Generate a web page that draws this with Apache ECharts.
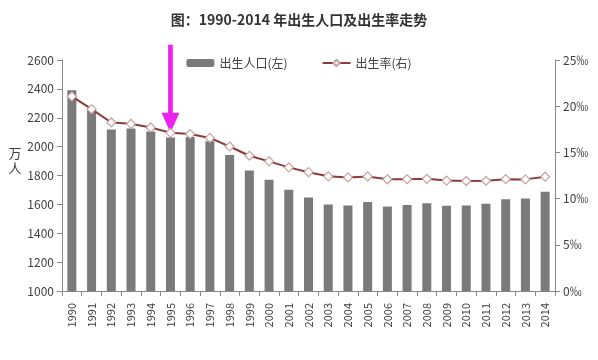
<!DOCTYPE html>
<html><head><meta charset="utf-8">
<script src="https://cdn.jsdelivr.net/npm/echarts@6/dist/echarts.min.js"></script>
<style>html,body{margin:0;padding:0;background:#fff}#c{width:598px;height:360px}</style>
</head><body><div id="c"></div>
<script>
var years = ['1990','1991','1992','1993','1994','1995','1996','1997','1998','1999','2000','2001','2002','2003','2004','2005','2006','2007','2008','2009','2010','2011','2012','2013','2014'];
var births = [2391,2258,2119,2126,2104,2063,2067,2038,1942,1834,1771,1702,1647,1599,1593,1617,1585,1595,1608,1591,1592,1604,1635,1640,1687];
var birthRate = [21.06,19.68,18.24,18.09,17.70,17.12,16.98,16.57,15.64,14.64,14.03,13.38,12.86,12.41,12.29,12.40,12.09,12.10,12.14,11.95,11.90,11.93,12.10,12.08,12.37];
var arrowYear = '1995';
var arrowRate = birthRate[years.indexOf(arrowYear)];

var chart = echarts.init(document.getElementById('c'));
var font = '"Noto Sans CJK SC", "DejaVu Sans", sans-serif';
chart.setOption({
  animation: false,
  textStyle: {fontFamily: font},
  title: {
    text: '图：1990-2014 年出生人口及出生率走势',
    left: 'center', top: 8,
    textStyle: {fontSize: 14, fontWeight: 'bold', color: '#333', fontFamily: font}
  },
  legend: {
    top: 52, left: 'center',
    itemWidth: 28, itemHeight: 8, itemGap: 34,
    textStyle: {fontSize: 12, color: '#404040'},
    data: ['出生人口(左)', '出生率(右)']
  },
  grid: {left: 62, right: 43, top: 60, bottom: 69},
  xAxis: {
    type: 'category', data: years,
    axisLine: {lineStyle: {color: '#888'}},
    axisTick: {show: true, lineStyle: {color: '#888'}},
    axisLabel: {rotate: 90, color: '#404040', fontSize: 11, interval: 0, margin: 12}
  },
  yAxis: [{
    type: 'value', min: 1000, max: 2600, interval: 200,
    name: '万\n人', nameLocation: 'middle', nameGap: 44, nameRotate: 0,
    nameTextStyle: {fontSize: 13, color: '#404040', lineHeight: 15, verticalAlign: 'bottom', align: 'center'},
    axisLine: {show: true, lineStyle: {color: '#888'}},
    axisTick: {show: true, lineStyle: {color: '#888'}},
    axisLabel: {color: '#404040', fontSize: 12, formatter: function (v) { return String(v); }},
    splitLine: {show: false}
  }, {
    type: 'value', min: 0, max: 25, interval: 5,
    axisLine: {show: true, lineStyle: {color: '#888'}},
    axisTick: {show: true, lineStyle: {color: '#888'}},
    axisLabel: {color: '#404040', fontSize: 12, formatter: '{value}‰'},
    splitLine: {show: false}
  }],
  series: [{
    name: '出生人口(左)', type: 'bar', data: births, yAxisIndex: 0,
    barWidth: 9, itemStyle: {color: '#7a7a7a'}
  }, {
    name: '出生率(右)', type: 'line', data: birthRate, yAxisIndex: 1,
    symbol: 'diamond', symbolSize: 9, z: 5,
    lineStyle: {color: '#8c3b3b', width: 2},
    itemStyle: {color: '#ffffff', borderColor: '#c9a0a0', borderWidth: 1.2},
    markPoint: {
      symbol: 'path://M7,0 L12,0 L12,68 L19,68 L9.5,88 L0,68 L7,68 Z',
      symbolSize: [18, 88], symbolOffset: [0, '-50%'],
      itemStyle: {color: '#ee22ee', borderWidth: 0},
      label: {show: false},
      data: [{coord: [arrowYear, arrowRate]}]
    }
  }]
});
</script></body></html>
